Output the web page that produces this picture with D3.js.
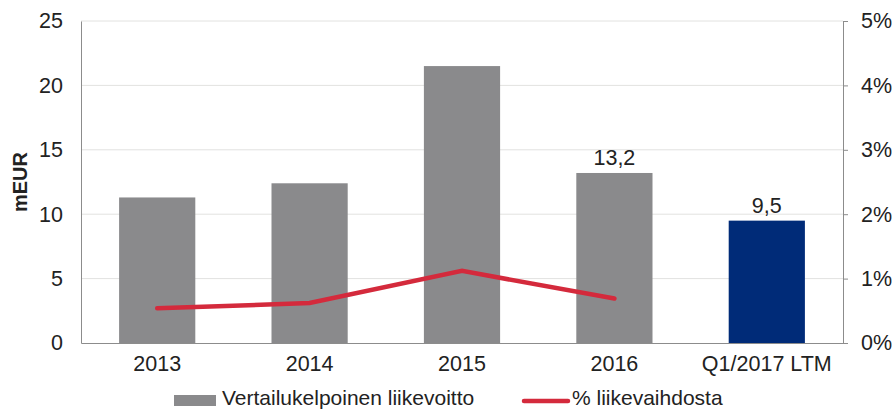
<!DOCTYPE html>
<html>
<head>
<meta charset="utf-8">
<script src="https://cdn.jsdelivr.net/npm/d3@7"></script>
<style>
  body { margin: 0; background: #fff; }
  svg { display: block; font-family: "Liberation Sans", Arial, sans-serif; }
</style>
</head>
<body>
<svg width="896" height="411"></svg>
<script>
var categories = ["2013", "2014", "2015", "2016", "Q1/2017 LTM"];
var profit = [11.3, 12.4, 21.5, 13.2, 9.5];      // mEUR
var pctOfSales = [0.54, 0.62, 1.12, 0.69];        // %, no value for LTM
var leftTicks = [0, 5, 10, 15, 20, 25];
var rightTicks = [0, 1, 2, 3, 4, 5];
var labelled = [3, 4]; // bars with value labels

var fs = 21.5;
var svg = d3.select("svg");
var m = {left: 81, right: 843, top: 21, bottom: 343};

var x = d3.scaleBand().domain(categories).range([m.left, m.right]).paddingInner(0.5).paddingOuter(0.25);
var y = d3.scaleLinear().domain([0, 25]).range([m.bottom, m.top]);
var y2 = d3.scaleLinear().domain([0, 5]).range([m.bottom, m.top]);

// gridlines
svg.append("g").selectAll("line").data(leftTicks.slice(1)).enter().append("line")
  .attr("x1", m.left).attr("x2", m.right)
  .attr("y1", function(d){ return y(d); }).attr("y2", function(d){ return y(d); })
  .attr("stroke", "#e2e2e0").attr("stroke-width", 1);

// bars
svg.append("g").selectAll("rect").data(profit).enter().append("rect")
  .attr("x", function(d, i){ return x(categories[i]); })
  .attr("y", function(d){ return y(d); })
  .attr("width", x.bandwidth())
  .attr("height", function(d){ return m.bottom - y(d); })
  .attr("fill", function(d, i){ return i == 4 ? "#002b78" : "#8a8a8c"; });

// value labels
svg.append("g").selectAll("text").data(labelled).enter().append("text")
  .attr("x", function(i){ return x(categories[i]) + x.bandwidth()/2; })
  .attr("y", function(i){ return y(profit[i]) - 8; })
  .attr("text-anchor", "middle").attr("font-size", fs).attr("fill", "#222")
  .text(function(i){ return String(profit[i]).replace(".", ","); });

// line
var line = d3.line()
  .x(function(d, i){ return x(categories[i]) + x.bandwidth()/2; })
  .y(function(d){ return y2(d); });
svg.append("path").datum(pctOfSales)
  .attr("d", line).attr("fill", "none")
  .attr("stroke", "#d42a3c").attr("stroke-width", 4.5)
  .attr("stroke-linecap", "round").attr("stroke-linejoin", "miter");

// left axis
var gl = svg.append("g").attr("transform", "translate(" + m.left + ",0)")
  .call(d3.axisLeft(y).tickValues(leftTicks).tickSize(0).tickPadding(18));
gl.select(".domain").attr("stroke", "#8c8c8c");
gl.selectAll("text").attr("font-size", fs).attr("fill", "#222").attr("font-family", null);

// right axis
var gr = svg.append("g").attr("transform", "translate(" + m.right + ",0)")
  .call(d3.axisRight(y2).tickValues(rightTicks).tickSize(5).tickSizeOuter(5).tickPadding(13)
    .tickFormat(function(d){ return d + "%"; }));
gr.select(".domain").attr("stroke", "#8c8c8c");
gr.selectAll(".tick line").attr("stroke", "#8c8c8c");
gr.selectAll("text").attr("font-size", fs).attr("fill", "#222").attr("font-family", null);

// bottom axis
var gb = svg.append("g").attr("transform", "translate(0," + m.bottom + ")")
  .call(d3.axisBottom(x).tickSize(0).tickPadding(13));
gb.select(".domain").attr("stroke", "#8c8c8c");
gb.selectAll("text").attr("font-size", fs).attr("fill", "#222").attr("font-family", null);

// y title
svg.append("text")
  .attr("transform", "translate(27,182) rotate(-90)")
  .attr("text-anchor", "middle").attr("font-size", 20).attr("font-weight", "bold").attr("fill", "#222")
  .text("mEUR");

// legend
var lg = svg.append("g");
lg.append("rect").attr("x", 174).attr("y", 395).attr("width", 42).attr("height", 11).attr("fill", "#8a8a8c");
lg.append("text").attr("x", 222).attr("y", 405).attr("font-size", 21).attr("fill", "#222")
  .text("Vertailukelpoinen liikevoitto");
lg.append("line").attr("x1", 524).attr("x2", 568).attr("y1", 401).attr("y2", 401)
  .attr("stroke", "#d42a3c").attr("stroke-width", 4.5).attr("stroke-linecap", "round");
lg.append("text").attr("x", 572).attr("y", 405).attr("font-size", 21).attr("fill", "#222")
  .text("% liikevaihdosta");
</script>
</body>
</html>
